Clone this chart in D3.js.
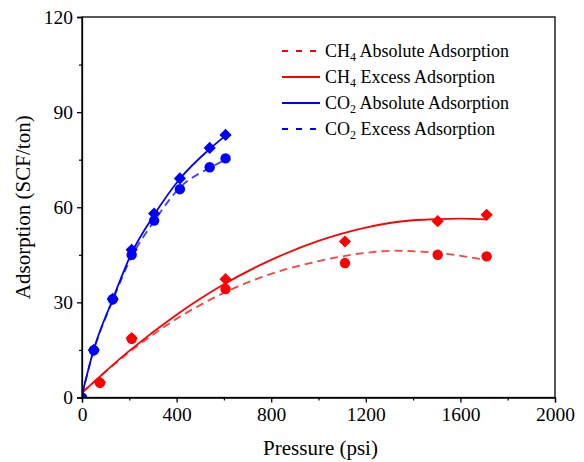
<!DOCTYPE html>
<html><head><meta charset="utf-8">
<script src="https://cdn.jsdelivr.net/npm/d3@7"></script>
<style>body{margin:0;background:#fff}svg{display:block}
svg text{font-family:"Liberation Serif","Times New Roman",serif !important;}</style>
</head><body>
<svg id="c" width="584" height="462"></svg>
<script>
// ---- data ----
const xTicks = [0, 400, 800, 1200, 1600, 2000];
const yTicks = [0, 30, 60, 90, 120];

// measured points
const co2Pressure = [0, 50, 130, 210, 305, 414, 540, 607];
const co2Absolute = [0, 15.0, 31.1, 46.6, 58.0, 69.1, 78.7, 82.8];
const co2Excess   = [0, 14.9, 31.0, 45.0, 55.8, 65.7, 72.6, 75.4];
const ch4Pressure = [76, 210, 607, 1112, 1504, 1711];
const ch4Excess   = [4.8, 18.7, 37.3, 49.2, 55.6, 57.6];
const ch4Absolute = [4.6, 18.5, 34.2, 42.4, 45.0, 44.5];

// fitted curves
const co2AbsCurveX = [0, 50, 130, 210, 305, 414, 540, 607];
const co2AbsCurveY = [0.8, 15.2, 31.0, 45.6, 57.6, 69.0, 78.4, 82.6];
const co2ExcCurveX = [0, 50, 130, 210, 305, 414, 540, 607];
const co2ExcCurveY = [0.8, 14.9, 30.6, 44.4, 55.6, 66.2, 72.4, 75.0];
const ch4ExcCurveX = [0, 200, 400, 600, 800, 1000, 1200, 1400, 1600, 1711];
const ch4ExcCurveY = [1.5, 14.7, 26.1, 35.7, 43.4, 49.4, 53.6, 55.9, 56.4, 56.2];
const ch4AbsCurveX = [0, 200, 400, 606, 800, 1000, 1200, 1320, 1500, 1711];
const ch4AbsCurveY = [1.5, 14.3, 24.8, 33.2, 39.0, 43.0, 45.6, 46.3, 45.6, 43.4];

const legendItems = [
  {gas: "CH", sub: "4", label: " Absolute Adsorption", color: "#ff0000", dash: true},
  {gas: "CH", sub: "4", label: " Excess Adsorption", color: "#ff0000", dash: false},
  {gas: "CO", sub: "2", label: " Absolute Adsorption", color: "#0000ff", dash: false},
  {gas: "CO", sub: "2", label: " Excess Adsorption", color: "#0000ff", dash: true}
];

// ---- layout ----
const L = 82, R = 555, T = 17, B = 397.5;
const svg = d3.select("#c");
const x = d3.scaleLinear().domain([0, 2000]).range([L, R]);
const y = d3.scaleLinear().domain([0, 120]).range([B, T]);

svg.append("defs").append("clipPath").attr("id", "clip")
  .append("rect").attr("x", L).attr("y", T).attr("width", R - L).attr("height", B - T);

const g = svg.append("g").attr("clip-path", "url(#clip)");
const line = d3.line().x(d => x(d[0])).y(d => y(d[1])).curve(d3.curveMonotoneX);
const zip = (a, b) => a.map((v, i) => [v, b[i]]);

function curve(xs, ys, color, dashed) {
  g.append("path").datum(zip(xs, ys)).attr("d", line)
    .attr("fill", "none").attr("stroke", color).attr("stroke-width", 1.8)
    .attr("stroke-opacity", dashed ? 0.75 : 1)
    .attr("stroke-dasharray", dashed ? "8,5" : null);
}
curve(ch4AbsCurveX, ch4AbsCurveY, "#ff0000", true);
curve(ch4ExcCurveX, ch4ExcCurveY, "#ff0000", false);
curve(co2ExcCurveX, co2ExcCurveY, "#0000ff", true);
curve(co2AbsCurveX, co2AbsCurveY, "#0000ff", false);

const diamond = d3.symbol().type(d3.symbolDiamond2).size(95);
function circles(xs, ys, color) {
  g.selectAll(null).data(zip(xs, ys)).enter().append("circle")
    .attr("cx", d => x(d[0])).attr("cy", d => y(d[1])).attr("r", 5.2).attr("fill", color);
}
function diamonds(xs, ys, color) {
  g.selectAll(null).data(zip(xs, ys)).enter().append("path")
    .attr("d", diamond).attr("transform", d => `translate(${x(d[0])},${y(d[1])})`)
    .attr("fill", color);
}
circles(ch4Pressure, ch4Absolute, "#ff0000");
diamonds(ch4Pressure, ch4Excess, "#ff0000");
circles(co2Pressure, co2Excess, "#0000ff");
diamonds(co2Pressure, co2Absolute, "#0000ff");

// ---- frame & axes ----
svg.append("rect").attr("x", L).attr("y", T).attr("width", R - L).attr("height", B - T)
  .attr("fill", "none").attr("stroke", "#000").attr("stroke-width", 1.3);

const xAxis = svg.append("g").attr("transform", `translate(0,${B})`)
  .call(d3.axisBottom(x).tickValues(xTicks).tickSize(5).tickPadding(5).tickFormat(d3.format("d")));
const yAxis = svg.append("g").attr("transform", `translate(${L},0)`)
  .call(d3.axisLeft(y).tickValues(yTicks).tickSize(5).tickPadding(4));
[xAxis, yAxis].forEach(a => {
  a.attr("font-family", null);
  a.select(".domain").attr("stroke-width", 1.3);
  a.selectAll(".tick line").attr("stroke-width", 1.3);
  a.selectAll("text").attr("font-size", 19.5).attr("fill", "#000");
});
// minor ticks
svg.append("g").attr("transform", `translate(0,${B})`)
  .call(d3.axisBottom(x).tickValues(d3.range(200, 2000, 400)).tickSize(3).tickFormat(""))
  .call(a => a.select(".domain").remove()).selectAll("line").attr("stroke-width", 1.2);
svg.append("g").attr("transform", `translate(${L},0)`)
  .call(d3.axisLeft(y).tickValues(d3.range(15, 120, 30)).tickSize(3).tickFormat(""))
  .call(a => a.select(".domain").remove()).selectAll("line").attr("stroke-width", 1.2);

svg.append("text").attr("x", (L + R) / 2 + 2).attr("y", 455).attr("text-anchor", "middle")
  .attr("font-size", 21).text("Pressure (psi)");
svg.append("text").attr("transform", `translate(30,${(T + B) / 2}) rotate(-90)`)
  .attr("text-anchor", "middle").attr("font-size", 21)
  .text("Adsorption (SCF/ton)");

// ---- legend ----
const lg = svg.append("g");
legendItems.forEach((it, i) => {
  const yy = 51 + i * 26;
  lg.append("line").attr("x1", 282).attr("x2", 320).attr("y1", yy).attr("y2", yy)
    .attr("stroke", it.color).attr("stroke-width", 1.8)
    .attr("stroke-dasharray", it.dash ? "6,8" : null);
  const t = lg.append("text").attr("x", 325).attr("y", yy + 6)
    .attr("font-size", 18).attr("fill", "#000");
  t.append("tspan").text(it.gas);
  t.append("tspan").attr("font-size", 12).attr("dy", 4).text(it.sub);
  t.append("tspan").attr("dy", -4).text(it.label);
});
</script>
</body></html>
